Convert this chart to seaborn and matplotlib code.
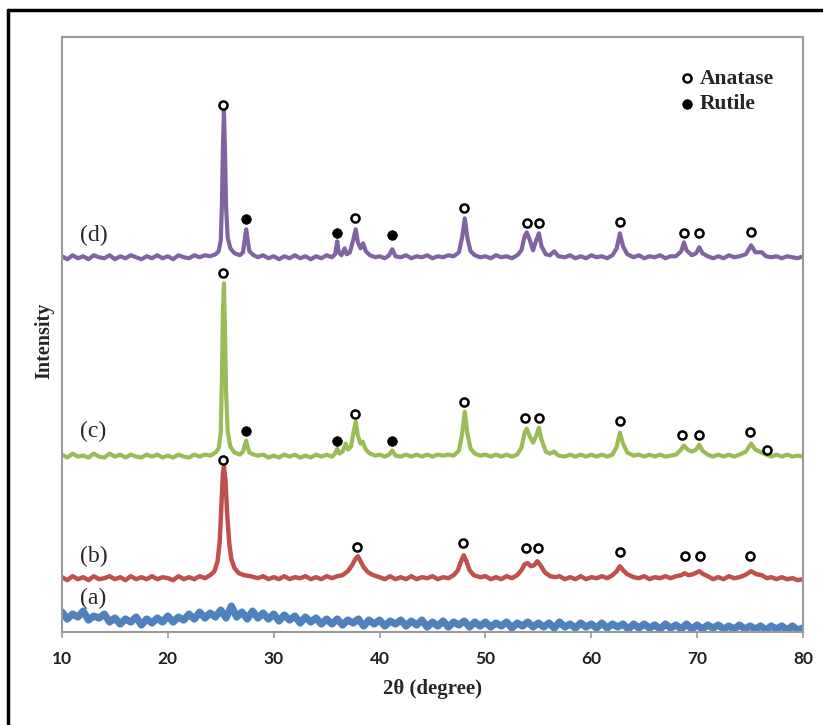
import matplotlib
matplotlib.use("Agg")
import matplotlib.pyplot as plt
from matplotlib.lines import Line2D
import seaborn as sns

# ---------------- data ----------------
# 2-theta (degree) / intensity (arbitrary, stacked patterns)
d_pts = [(10,376),(10.5,373),(11,377),(11.5,374),(12,376),(12.5,373),(13,377),(13.5,375),(14,374),(14.5,377),
         (15,373),(15.5,376),(16,374),(16.5,377),(17,375),(17.5,373),(18,376),(18.5,374),(19,377),(19.5,374),
         (20,376),(20.5,373),(21,377),(21.5,375),(22,374),(22.5,377),(23,375),(23.5,377),(24,376),(24.5,378),
         (24.8,381),(25.0,392),(25.1,425),(25.2,485),(25.3,522),(25.4,480),(25.5,425),(25.65,395),(25.9,384),
         (26.3,379),(26.8,377),(27.1,380),(27.3,396),(27.4,403),(27.5,395),(27.7,381),(28.1,377),(28.5,375),
         (29,377),(29.5,374),(30,376),(30.5,373),(31,376),(31.5,374),(32,377),(32.5,374),(33,376),(33.5,373),
         (34,376),(34.5,374),(35,377),(35.5,375),(35.8,378),(36.0,391),(36.15,380),(36.4,377),(36.7,384),
         (36.9,378),(37.2,380),(37.5,392),(37.75,403),(37.95,390),(38.2,384),(38.45,389),(38.7,381),(39.1,377),
         (39.6,375),(40,376),(40.5,374),(40.9,377),(41.2,383),(41.5,376),(42,375),(42.5,377),(43,374),(43.5,376),
         (44,375),(44.5,377),(45,374),(45.5,376),(46,375),(46.5,377),(47,376),(47.5,380),(47.8,395),(48.05,414),
         (48.3,394),(48.6,381),(49,377),(49.5,375),(50,376),(50.5,374),(51,377),(51.5,375),(52,376),(52.5,374),
         (53,377),(53.4,382),(53.7,396),(53.9,400),(54.2,392),(54.5,382),(54.8,392),(55.05,399),(55.3,386),
         (55.7,378),(56.1,377),(56.5,381),(56.9,376),(57.5,375),(58,377),(58.5,374),(59,376),(59.5,374),(60,377),
         (60.5,375),(61,376),(61.5,374),(62,377),(62.4,384),(62.7,399),(63.0,386),(63.4,378),(64,375),(64.5,377),
         (65,374),(65.5,376),(66,375),(66.5,377),(67,374),(67.5,376),(68,376),(68.5,381),(68.75,390),(69.0,382),
         (69.5,377),(69.9,379),(70.2,385),(70.5,379),(71,376),(71.5,374),(72,376),(72.5,374),(73,377),(73.5,375),
         (74,376),(74.6,378),(75.1,387),(75.5,380),(76.1,380),(76.5,376),(77,375),(77.5,376),(78,374),(78.5,376),
         (79,375),(79.5,374),(80,376)]

c_pts = [(10,177),(10.5,174),(11,178),(11.5,175),(12,176),(12.5,174),(13,178),(13.5,175),(14,174),(14.5,178),
         (15,175),(15.5,177),(16,174),(16.5,177),(17,175),(17.5,174),(18,177),(18.5,175),(19,177),(19.5,174),
         (20,176),(20.5,174),(21,177),(21.5,175),(22,174),(22.5,177),(23,175),(23.5,177),(24,176),(24.5,179),
         (24.8,183),(25.0,200),(25.1,250),(25.2,320),(25.3,349),(25.4,300),(25.5,240),(25.65,200),(25.9,185),
         (26.3,179),(26.8,177),(27.1,180),(27.3,188),(27.4,191),(27.5,186),(27.7,179),(28.1,177),(28.5,176),
         (29,177),(29.5,174),(30,176),(30.5,174),(31,177),(31.5,175),(32,177),(32.5,174),(33,176),(33.5,174),
         (34,177),(34.5,175),(35,177),(35.5,175),(35.8,178),(36.0,183),(36.2,178),(36.5,180),(36.8,188),
         (37.0,182),(37.3,185),(37.55,200),(37.75,210),(37.95,196),(38.2,188),(38.4,190),(38.7,182),(39.1,178),
         (39.6,176),(40,177),(40.5,175),(40.9,177),(41.2,181),(41.5,176),(42,175),(42.5,177),(43,175),(43.5,177),
         (44,175),(44.5,177),(45,175),(45.5,177),(46,176),(46.5,177),(47,176),(47.5,181),(47.8,198),(48.05,220),
         (48.3,198),(48.6,183),(49,178),(49.5,176),(50,177),(50.5,175),(51,177),(51.5,175),(52,177),(52.5,175),
         (53,177),(53.4,184),(53.7,199),(53.9,203),(54.2,195),(54.5,189),(54.8,196),(55.05,204),(55.3,192),
         (55.7,180),(56.1,178),(56.5,180),(56.9,176),(57.5,175),(58,177),(58.5,175),(59,177),(59.5,175),(60,177),
         (60.5,175),(61,177),(61.5,175),(62,177),(62.4,185),(62.7,199),(63.0,188),(63.4,179),(64,176),(64.5,177),
         (65,175),(65.5,177),(66,175),(66.5,177),(67,175),(67.5,176),(68,177),(68.4,181),(68.75,186),(69.1,182),
         (69.5,180),(69.9,182),(70.2,187),(70.5,181),(71,177),(71.5,175),(72,177),(72.5,175),(73,177),(73.5,175),
         (74,177),(74.6,180),(75.1,188),(75.5,182),(76.1,179),(76.5,177),(77,175),(77.5,177),(78,175),(78.5,177),
         (79,175),(79.5,176),(80,175)]

b_pts = [(10,54),(10.5,51),(11,55),(11.5,52),(12,54),(12.5,51),(13,55),(13.5,52),(14,53),(14.5,55),
         (15,52),(15.5,54),(16,51),(16.5,55),(17,52),(17.5,54),(18,52),(18.5,55),(19,52),(19.5,54),
         (20,53),(20.5,51),(21,55),(21.5,52),(22,54),(22.5,52),(23,55),(23.5,53),(24,56),(24.4,60),
         (24.7,70),(24.9,90),(25.05,125),(25.2,158),(25.3,165),(25.45,150),(25.6,118),(25.8,88),(26.0,72),
         (26.3,63),(26.7,58),(27.2,56),(27.8,55),(28.5,53),(29,55),(29.5,52),(30,54),(30.5,52),(31,55),
         (31.5,52),(32,54),(32.5,53),(33,55),(33.5,52),(34,54),(34.5,52),(35,55),(35.5,53),(36,55),(36.5,56),
         (37,60),(37.4,66),(37.7,72),(37.95,75),(38.2,70),(38.5,64),(38.9,59),(39.4,56),(40,54),(40.5,52),
         (41,55),(41.5,52),(42,54),(42.5,52),(43,55),(43.5,52),(44,54),(44.5,53),(45,55),(45.5,52),(46,54),
         (46.5,53),(47,56),(47.4,61),(47.7,70),(47.95,76),(48.2,70),(48.5,61),(48.9,56),(49.5,54),(50,55),
         (50.5,52),(51,54),(51.5,52),(52,55),(52.5,53),(53,56),(53.4,61),(53.7,67),(54.0,68),(54.3,65),
         (54.6,66),(54.9,70),(55.2,66),(55.6,59),(56.1,55),(56.6,54),(57,55),(57.5,52),(58,54),(58.5,52),
         (59,55),(59.5,52),(60,54),(60.5,53),(61,55),(61.5,53),(62,56),(62.4,60),(62.7,65),(63.0,61),(63.4,57),
         (64,54),(64.5,53),(65,55),(65.5,52),(66,54),(66.5,53),(67,55),(67.5,53),(68,55),(68.5,56),(68.8,58),
         (69.2,56),(69.6,57),(70.2,60),(70.6,57),(71.2,54),(71.5,52),(72,54),(72.5,52),(73,55),(73.5,53),
         (74,54),(74.5,56),(75.1,60),(75.6,57),(76.1,56),(76.6,53),(77,54),(77.5,52),(78,54),(78.5,52),
         (79,53),(79.5,51),(80,52)]

# amorphous sample (a): one value every 0.5 degree from 10 to 80
a_x = [10 + 0.5 * i for i in range(141)]
a_y = [19, 12, 17, 14, 20, 11, 15, 13, 17, 9,
       13, 7, 12, 9, 14, 6, 12, 8, 13, 9,
       15, 9, 14, 11, 17, 12, 19, 13, 18, 14,
       21, 13, 25, 14, 19, 12, 20, 13, 18, 12,
       17, 10, 16, 11, 15, 8, 14, 9, 13, 7,
       12, 7, 12, 6, 11, 8, 12, 5, 11, 7,
       11, 5, 10, 7, 11, 5, 10, 6, 11, 4,
       9, 5, 10, 4, 9, 6, 10, 4, 9, 5,
       9, 4, 8, 5, 9, 3, 8, 5, 9, 4,
       8, 4, 8, 3, 9, 4, 7, 3, 8, 4,
       7, 3, 8, 3, 7, 4, 7, 2, 7, 3,
       7, 3, 6, 2, 7, 3, 6, 2, 7, 2,
       6, 2, 6, 3, 6, 2, 5, 2, 6, 2,
       5, 2, 5, 1, 5, 2, 5, 1, 5, 1,
       3]

d_x, d_y = zip(*d_pts)
c_x, c_y = zip(*c_pts)
b_x, b_y = zip(*b_pts)

# phase markers (2-theta, height)
anatase_x = [25.2, 37.7, 48.0, 53.9, 55.05, 62.7, 68.75, 70.2, 75.1,
             25.2, 37.7, 48.0, 53.7, 55.1, 62.7, 68.6, 70.2, 75.0, 76.6,
             25.2, 37.9, 47.9, 53.8, 55.0, 62.7, 68.9, 70.3, 75.0]
anatase_y = [528, 414, 424, 409, 409, 410, 399, 399, 400,
             359, 218, 230, 214, 214, 211, 197, 197, 200, 182,
             172, 84, 88, 83, 83, 79, 75, 75, 75]
rutile_x = [27.4, 36.0, 41.2, 27.4, 36.0, 41.2]
rutile_y = [413, 399, 397, 201, 191, 191]

sample_labels = ["(a)", "(b)", "(c)", "(d)"]
label_y = [33, 75, 200, 397]
xticks = [10, 20, 30, 40, 50, 60, 70, 80]
colors = {"a": "#4F81BD", "b": "#C0504D", "c": "#9BBB59", "d": "#8064A2"}

# ---------------- drawing ----------------
sns.set_theme(style="white")
plt.rcParams["font.family"] = ["Liberation Serif", "DejaVu Serif"]

fig = plt.figure(figsize=(8.23, 7.25), dpi=100)
ax = fig.add_axes([62 / 823, 1 - 632 / 725, 741 / 823, 595 / 725])

sns.lineplot(x=list(a_x), y=a_y, color=colors["a"], lw=5.2, ax=ax, sort=False)
sns.lineplot(x=list(b_x), y=list(b_y), color=colors["b"], lw=3.2, ax=ax, sort=False)
sns.lineplot(x=list(c_x), y=list(c_y), color=colors["c"], lw=3.0, ax=ax, sort=False)
sns.lineplot(x=list(d_x), y=list(d_y), color=colors["d"], lw=3.0, ax=ax, sort=False)

sns.scatterplot(x=anatase_x, y=anatase_y, marker="o", s=34, facecolor="white",
                edgecolor="black", linewidth=1.8, zorder=5, ax=ax, label="Anatase")
sns.scatterplot(x=rutile_x, y=rutile_y, marker="o", s=48, facecolor="black",
                edgecolor="black", linewidth=0.5, zorder=5, ax=ax, label="Rutile")

for lab, yy in zip(sample_labels, label_y):
    ax.text(11.7, yy, lab, fontsize=17, va="center", ha="left",
            family=["Liberation Serif", "DejaVu Serif"], zorder=6)

ax.set_xlim(10, 80)
ax.set_ylim(-1, 596)
ax.set_xticks(xticks)
ax.set_xticklabels([str(t) for t in xticks], fontsize=12.5, fontweight="bold",
                   family=["Lato", "DejaVu Sans"], color="#222222")
ax.set_yticks([])
ax.tick_params(axis="x", direction="out", length=4, width=1.2, color="#999999",
               pad=10, bottom=True)
for sp in ax.spines.values():
    sp.set_color("#9a9a9a")
    sp.set_linewidth(1.5)
    sp.set_visible(True)

ax.set_xlabel("2θ (degree)", fontsize=15, fontweight="bold", labelpad=8)
ax.set_ylabel("Intensity", fontsize=14.5, fontweight="bold")
ax.yaxis.set_label_coords(-0.011, 0.49)

leg = ax.legend(loc="upper left", bbox_to_anchor=(0.827, 0.905), bbox_transform=fig.transFigure,
                frameon=False, handlelength=0.6, handletextpad=0.3, labelspacing=0.25,
                borderpad=0, borderaxespad=0,
                prop={"family": "Liberation Serif", "weight": "bold", "size": 15.5})

# outer black frame (left and top edges visible)
fig.add_artist(Line2D([8 / 823, 8 / 823], [0, 1 - 10 / 725], color="black", lw=2.5,
                      transform=fig.transFigure))
fig.add_artist(Line2D([8 / 823, 1], [1 - 10 / 725, 1 - 10 / 725], color="black", lw=2.5,
                      transform=fig.transFigure))

fig.savefig("out.png", dpi=100, facecolor="white")
